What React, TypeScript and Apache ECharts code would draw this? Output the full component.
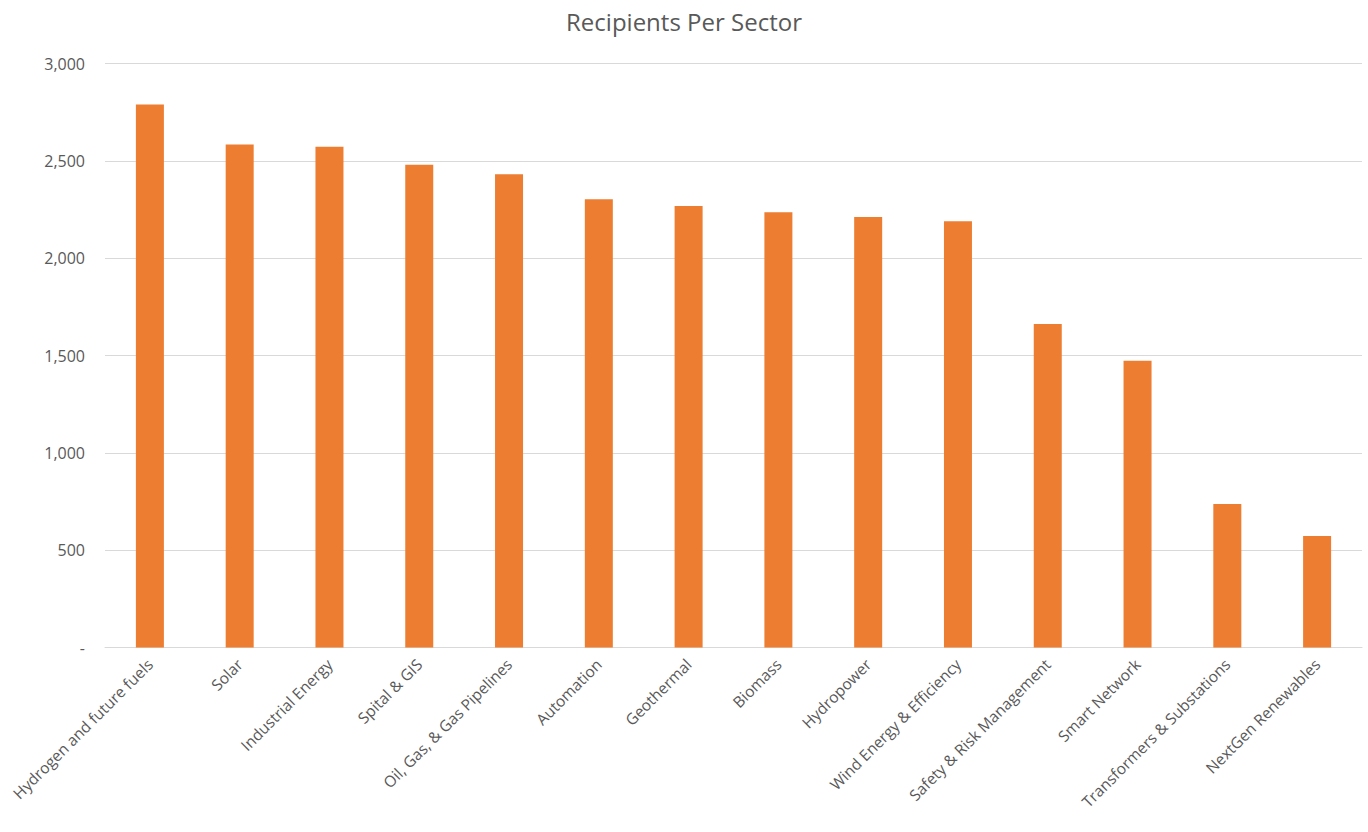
import React, { useEffect, useRef } from "react";
import * as echarts from "echarts";

const categories = [
  "Hydrogen and future fuels",
  "Solar",
  "Industrial Energy",
  "Spital & GIS",
  "Oil, Gas, & Gas Pipelines",
  "Automation",
  "Geothermal",
  "Biomass",
  "Hydropower",
  "Wind Energy & Efficiency",
  "Safety & Risk Management",
  "Smart Network",
  "Transformers & Substations",
  "NextGen Renewables",
];

const recipients = [2790, 2585, 2573, 2480, 2431, 2303, 2268, 2237, 2212, 2190, 1662, 1474, 738, 573];

const yMin = 0;
const yMax = 3000;
const yInterval = 500;

const FONT = "'Open Sans', 'Noto Sans', sans-serif";

export default function App() {
  const ref = useRef<HTMLDivElement>(null);
  useEffect(() => {
    if (!ref.current) return;
    const chart = echarts.init(ref.current, undefined, { renderer: "svg" });
    chart.setOption({
      animation: false,
      backgroundColor: "#ffffff",
      title: {
        text: "Recipients Per Sector",
        left: "center",
        top: 4,
        textStyle: { fontFamily: FONT, fontSize: 24, fontWeight: "normal", color: "#595959" },
      },
      grid: { left: 105, right: 6, top: 63.6, bottom: 184.4, containLabel: false },
      xAxis: {
        type: "category",
        data: categories,
        axisLine: { show: true, lineStyle: { color: "#d9d9d9", width: 1 } },
        axisTick: { show: false },
        axisLabel: {
          interval: 0,
          rotate: 45,
          fontFamily: FONT,
          fontSize: 15.5,
          color: "#595959",
          margin: 14,
        },
      },
      yAxis: {
        type: "value",
        min: yMin,
        max: yMax,
        interval: yInterval,
        axisLine: { show: false },
        axisTick: { show: false },
        splitLine: { lineStyle: { color: "#d9d9d9", width: 1 } },
        axisLabel: {
          fontFamily: FONT,
          fontSize: 16,
          color: "#595959",
          margin: 20,
          formatter: (v: number) => (v === 0 ? "-" : v.toLocaleString("en-US")),
        },
      },
      series: [
        {
          type: "bar",
          data: recipients,
          barWidth: 28,
          itemStyle: { color: "#ED7D31" },
        },
      ],
    });
    return () => chart.dispose();
  }, []);
  return <div ref={ref} style={{ width: 1368, height: 832, position: "absolute", left: 0, top: 0 }} />;
}
